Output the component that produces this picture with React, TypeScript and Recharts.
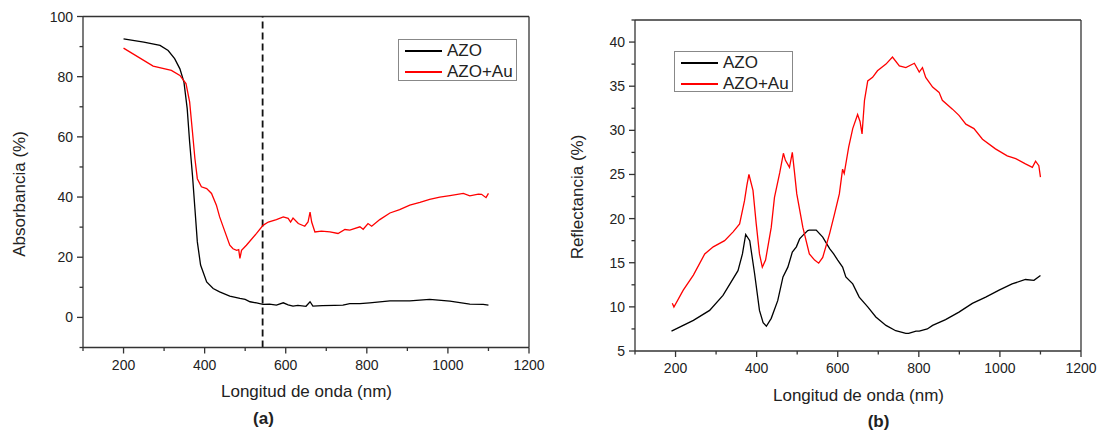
import React from "react";
import { LineChart, Line, XAxis, YAxis, ReferenceLine } from "recharts";

// (a) absorbance, wavelength in nm
const absAzoNm = [200, 250, 290, 310, 326, 339, 349, 357, 363, 370, 376, 382, 390, 405, 421, 437, 462, 487, 500, 512, 528, 544, 560, 577, 594, 606, 618, 630, 650, 660, 667, 690, 720, 741, 758, 783, 807, 857, 906, 955, 1005, 1054, 1087, 1100];
const absAzoVal = [92.6, 91.5, 90.4, 88.7, 86, 82.6, 78.2, 69.4, 58.3, 47.2, 36.2, 25.1, 17.4, 11.8, 9.6, 8.5, 7.1, 6.3, 6.0, 5.2, 4.8, 4.3, 4.4, 4.1, 4.85, 4.2, 3.75, 4.0, 3.7, 5.2, 3.75, 3.9, 4.0, 4.1, 4.6, 4.6, 4.85, 5.5, 5.5, 6.0, 5.4, 4.4, 4.3, 4.1];
const absAuNm = [200, 273, 318, 339, 354, 363, 370, 376, 382, 392, 405, 417, 429, 437, 446, 462, 470, 479, 484, 487, 491, 503, 528, 544, 557, 577, 594, 606, 612, 618, 631, 647, 655, 660, 664, 672, 688, 709, 729, 746, 758, 783, 791, 803, 812, 832, 857, 881, 906, 931, 955, 980, 1005, 1038, 1054, 1075, 1083, 1094, 1100];
const absAuVal = [89.5, 83.5, 82.1, 80.4, 77.7, 71.6, 61.6, 52.8, 46.1, 43.4, 42.8, 41.2, 37.3, 33.4, 30, 24, 22.8, 22.3, 22.5, 19.6, 22.3, 24, 27.9, 30.6, 31.7, 32.5, 33.4, 32.9, 31.7, 33, 31.2, 30.3, 31.7, 35, 31.7, 28.4, 28.7, 28.4, 27.9, 29.2, 29, 30.1, 29.3, 31.2, 30.3, 32.5, 34.7, 35.8, 37.3, 38.2, 39.2, 40, 40.5, 41.2, 40.4, 41, 40.9, 39.8, 41.2];

// (b) reflectance
const refAzoNm = [190, 244, 284, 317, 354, 365, 373, 383, 395, 407, 416, 424, 436, 452, 465, 477, 488, 498, 506, 514, 526, 530, 547, 563, 580, 590, 600, 612, 620, 637, 653, 674, 694, 719, 743, 768, 775, 793, 801, 821, 834, 866, 899, 932, 965, 998, 1030, 1063, 1084, 1100];
const refAzoVal = [7.26, 8.47, 9.6, 11.3, 14.1, 16.0, 18.2, 17.5, 13.75, 9.6, 8.2, 7.8, 8.7, 10.7, 13.4, 14.5, 16.2, 16.8, 17.7, 18.1, 18.65, 18.7, 18.7, 17.9, 16.6, 16.0, 15.3, 14.5, 13.4, 12.6, 11.1, 10, 8.85, 7.9, 7.3, 7.0, 7.0, 7.26, 7.26, 7.5, 7.9, 8.55, 9.4, 10.4, 11.1, 11.9, 12.6, 13.1, 13.0, 13.56];
const refAuNm = [192, 196, 219, 244, 272, 293, 321, 342, 358, 370, 376, 381, 391, 399, 407, 414, 422, 436, 444, 457, 466, 471, 481, 488, 493, 499, 514, 530, 543, 553, 563, 580, 592, 604, 612, 616, 627, 637, 649, 655, 660, 666, 674, 686, 698, 719, 735, 752, 768, 789, 801, 809, 817, 834, 850, 858, 883, 899, 916, 936, 957, 989, 1018, 1039, 1063, 1080, 1088, 1096, 1100];
const refAuVal = [10.4, 9.98, 11.9, 13.6, 16, 16.8, 17.5, 18.5, 19.4, 22, 23.8, 25, 23.2, 19.4, 16, 14.5, 15.3, 19, 22.4, 25.2, 27.4, 26.6, 25.8, 27.5, 25.4, 22.8, 19, 16, 15.3, 14.95, 15.6, 18.3, 20.5, 22.8, 25.6, 25.1, 28.1, 30.2, 31.8, 31.0, 29.6, 33.4, 35.6, 36, 36.75, 37.5, 38.3, 37.3, 37.1, 37.6, 36.6, 37.1, 36, 34.9, 34.3, 33.4, 32.4, 31.7, 30.7, 30.2, 29, 27.9, 27.1, 26.8, 26.2, 25.8, 26.5, 26, 24.7];

const xTicks = [100, 200, 300, 400, 500, 600, 700, 800, 900, 1000, 1100, 1200];
const absTicks = [-10, 0, 10, 20, 30, 40, 50, 60, 70, 80, 90, 100];
const refTicks = [5, 7.5, 10, 12.5, 15, 17.5, 20, 22.5, 25, 27.5, 30, 32.5, 35, 37.5, 40, 42.5];
const dashNm = 543;

const seriesNames = ["AZO", "AZO+Au"];
const AXIS = "#333";
const TXT = "#222";
const FONT = "'Liberation Sans', Arial, sans-serif";

const zip = (xs: number[], ys: number[]) => xs.map((x, i) => ({ x, y: ys[i] }));

const XTick = (props: any) => {
  const { x, y, payload } = props;
  const major = payload.value % 200 === 0 && payload.value !== 100;
  return (
    <g>
      <line x1={x} x2={x} y1={y} y2={y + (major ? 6 : 3.5)} stroke={AXIS} strokeWidth={1.3} />
      {major && (
        <text x={x} y={y + 22} textAnchor="middle" fontSize={14} fill={TXT} fontFamily={FONT}>
          {payload.value}
        </text>
      )}
    </g>
  );
};

const makeYTick = (isMajor: (v: number) => boolean) => (props: any) => {
  const { x, y, payload } = props;
  const major = isMajor(payload.value);
  return (
    <g>
      <line x1={x} x2={x - (major ? 6 : 3.5)} y1={y} y2={y} stroke={AXIS} strokeWidth={1.3} />
      {major && (
        <text x={x - 10} y={y + 5} textAnchor="end" fontSize={14} fill={TXT} fontFamily={FONT}>
          {payload.value}
        </text>
      )}
    </g>
  );
};

function Panel(props: {
  azo: { x: number; y: number }[];
  au: { x: number; y: number }[];
  yDomain: [number, number];
  yTicks: number[];
  isMajor: (v: number) => boolean;
  margin: { top: number; right: number; bottom: number; left: number };
  yWidth: number;
  dash?: number;
}) {
  const { azo, au, yDomain, yTicks, isMajor, margin, yWidth, dash } = props;
  return (
    <LineChart width={551} height={430} margin={margin}>
      <XAxis
        type="number"
        dataKey="x"
        domain={[100, 1200]}
        ticks={xTicks}
        interval={0}
        tickSize={0}
        tickMargin={0}
        tickLine={false}
        tick={<XTick />}
        height={30}
        axisLine={{ stroke: AXIS, strokeWidth: 1.3 }}
      />
      <YAxis
        type="number"
        domain={yDomain}
        ticks={yTicks}
        interval={0}
        tickSize={0}
        tickMargin={0}
        tickLine={false}
        tick={makeYTick(isMajor)}
        width={yWidth}
        axisLine={{ stroke: AXIS, strokeWidth: 1.3 }}
      />
      <ReferenceLine y={yDomain[1]} stroke={AXIS} strokeWidth={1.3} />
      <ReferenceLine x={1200} stroke={AXIS} strokeWidth={1.3} />
      {dash !== undefined && (
        <ReferenceLine x={dash} stroke="#111" strokeWidth={1.8} strokeDasharray="7 4" />
      )}
      <Line data={azo} dataKey="y" type="linear" stroke="#000" strokeWidth={1.3} dot={false} isAnimationActive={false} />
      <Line data={au} dataKey="y" type="linear" stroke="#ff0000" strokeWidth={1.3} dot={false} isAnimationActive={false} />
    </LineChart>
  );
}

function Legend(props: { left: number; top: number; height: number }) {
  const { left, top, height } = props;
  const colors = ["#000", "#ff0000"];
  return (
    <div
      style={{
        position: "absolute",
        left,
        top,
        width: 119,
        height,
        border: "1px solid #888",
        background: "#fff",
        boxSizing: "border-box",
      }}
    >
      {seriesNames.map((n, i) => (
        <div key={n} style={{ position: "absolute", left: 6, top: 3 + i * 21, height: 16, display: "flex", alignItems: "center" }}>
          <div style={{ width: 37, height: 1.4, background: colors[i] }} />
          <span style={{ marginLeft: 5, fontSize: 17, lineHeight: "16px", color: TXT }}>{n}</span>
        </div>
      ))}
    </div>
  );
}

const abs = (s: React.CSSProperties): React.CSSProperties => ({
  position: "absolute",
  whiteSpace: "nowrap",
  lineHeight: 1,
  color: TXT,
  ...s,
});

export default function App() {
  return (
    <div style={{ position: "relative", width: 1102, height: 430, background: "#fff", fontFamily: FONT }}>
      <style>{`body{margin:0}`}</style>
      <div style={{ position: "absolute", left: 0, top: 0 }}>
        <Panel
          azo={zip(absAzoNm, absAzoVal)}
          au={zip(absAuNm, absAuVal)}
          yDomain={[-10, 100]}
          yTicks={absTicks}
          isMajor={(v) => v % 20 === 0}
          margin={{ top: 16.5, right: 22, bottom: 52.5, left: 0 }}
          yWidth={83}
          dash={dashNm}
        />
      </div>
      <div style={{ position: "absolute", left: 551, top: 0 }}>
        <Panel
          azo={zip(refAzoNm, refAzoVal)}
          au={zip(refAuNm, refAuVal)}
          yDomain={[5, 42.5]}
          yTicks={refTicks}
          isMajor={(v) => v % 5 === 0}
          margin={{ top: 20, right: 21, bottom: 49, left: 0 }}
          yWidth={84}
        />
      </div>

      <Legend left={398} top={39} height={42} />
      <Legend left={674} top={51} height={41} />

      <div style={abs({ left: 19, top: 194, fontSize: 17, transform: "translate(-50%,-50%) rotate(-90deg)" })}>Absorbancia (%)</div>
      <div style={abs({ left: 306.5, top: 391, fontSize: 17, transform: "translate(-50%,-50%)" })}>Longitud de onda (nm)</div>
      <div style={abs({ left: 263.5, top: 418, fontSize: 17, fontWeight: "bold", transform: "translate(-50%,-50%)" })}>(a)</div>

      <div style={abs({ left: 577, top: 197, fontSize: 17, transform: "translate(-50%,-50%) rotate(-90deg)" })}>Reflectancia (%)</div>
      <div style={abs({ left: 858.5, top: 395, fontSize: 17, transform: "translate(-50%,-50%)" })}>Longitud de onda (nm)</div>
      <div style={abs({ left: 878.5, top: 421, fontSize: 17, fontWeight: "bold", transform: "translate(-50%,-50%)" })}>(b)</div>
    </div>
  );
}
